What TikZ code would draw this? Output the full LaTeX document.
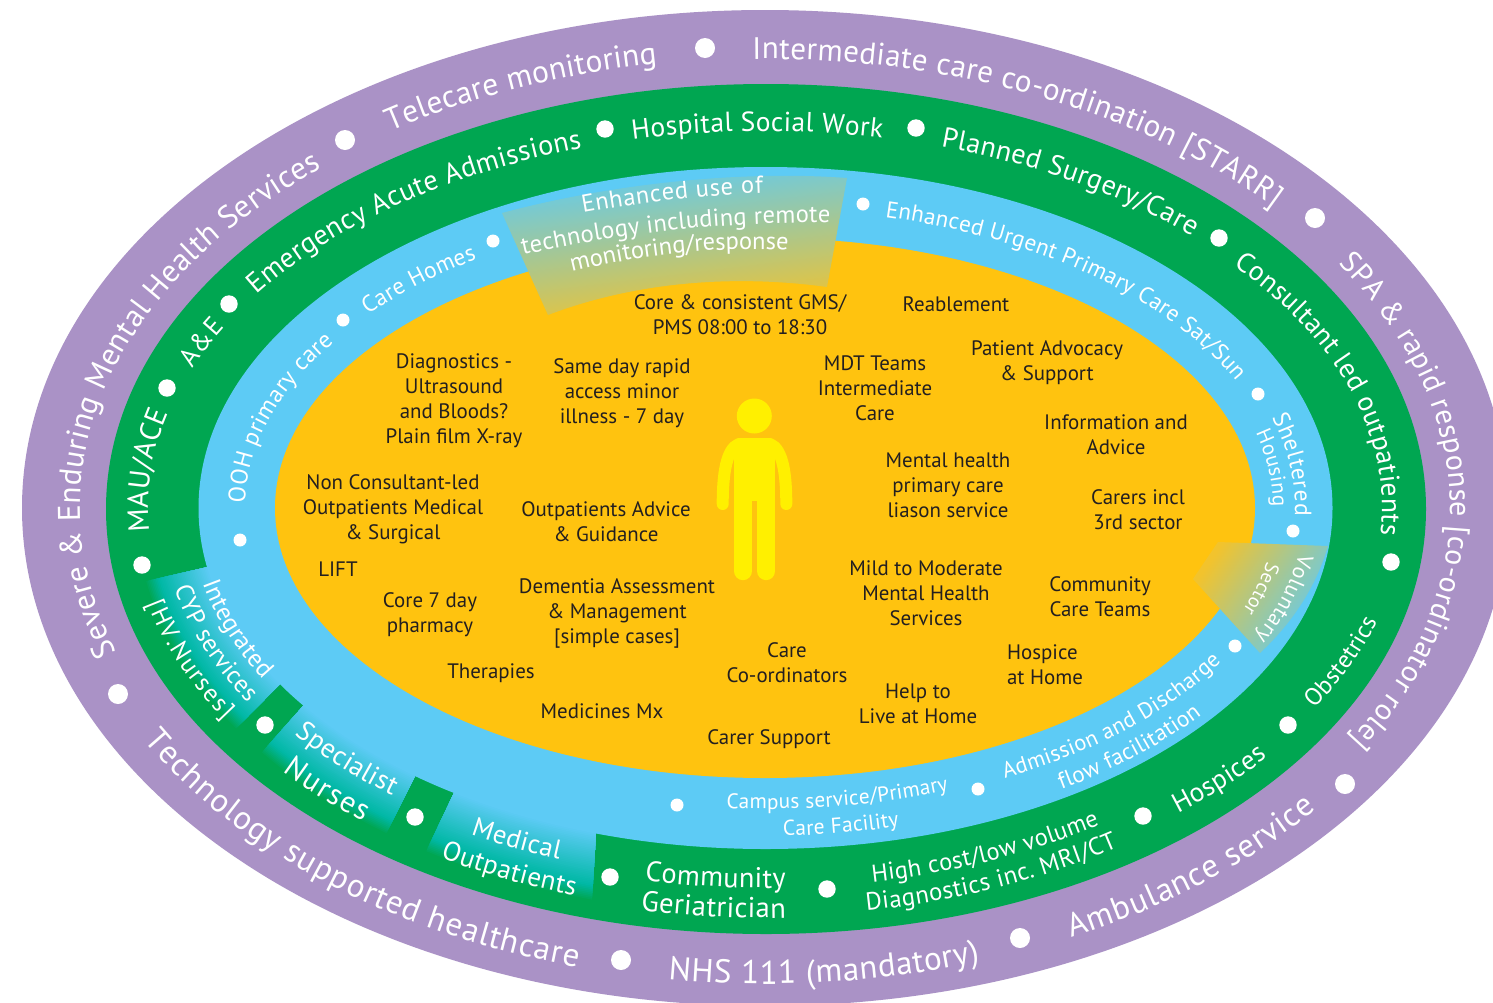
\documentclass[tikz,border=0pt]{standalone}
\usepackage{fontspec}
\setmainfont{PT Sans}
\usetikzlibrary{decorations.text}
\definecolor{purp}{RGB}{170,146,198}
\definecolor{grn}{RGB}{0,166,81}
\definecolor{blu}{RGB}{93,203,245}
\definecolor{yel}{RGB}{255,195,15}
\definecolor{teal0}{RGB}{0,184,165}
\definecolor{pers}{RGB}{255,240,0}
\definecolor{ink}{RGB}{35,31,32}
\definecolor{wmid}{RGB}{172,198,178}
\definecolor{wend}{RGB}{242,195,45}
\tikzset{
  lab/.style={text=ink,align=center,inner sep=0pt,yshift=-1pt,font=\fontsize{20.9}{25}\selectfont},
  wdot/.style={fill=white},
}
\newlength\tw
\newcommand\curfs{10}
\newcommand\fsel{\fontsize{\curfs}{\curfs}\selectfont\color{white}}
% arc length of an ellipse piece: rx ry a b -> \arclen
\newcommand\arcL[4]{%
  \gdef\arclen{0}%
  \foreach \k in {0.5,1.5,...,7.5}{%
    \pgfmathsetmacro\th{#3+(#4-(#3))*\k/8}%
    \pgfmathparse{\arclen+sqrt((#1/100*sin(\th))^2+(#2/100*cos(\th))^2)*100*(abs(#4-(#3))*0.0174533/8)}%
    \xdef\arclen{\pgfmathresult}}%
}
% largest size <= #1 whose natural width fits the arc
\newcommand\fitfs[2]{%
  \settowidth\tw{\pgfinterruptpicture\fontsize{#1}{#1}\selectfont #2\endpgfinterruptpicture}%
  \pgfmathsetmacro\curfs{min(#1,#1*(\arclen/\tw)*0.97)}}
% rx ry x1 y1 x2 y2 size text
\newcommand\cwtext[8]{%
  \pgfmathsetmacro\aS{atan2((508-#4)/#2,(#3-765)/#1)}%
  \pgfmathsetmacro\aT{atan2((508-#6)/#2,(#5-765)/#1)}%
  \pgfmathsetmacro\aE{\aT>\aS ? \aT-360 : \aT}%
  \pgfmathsetmacro\pX{765+#1*cos(\aS)}%
  \pgfmathsetmacro\pY{-508+#2*sin(\aS)}%
  \arcL{#1}{#2}{\aS}{\aE}\fitfs{#7}{#8}%
  \path[decorate,decoration={text along path,text align={fit to path},text={|\fsel|#8}}]
    (\pX pt,\pY pt) arc[start angle=\aS,end angle=\aE,x radius=#1pt,y radius=#2pt];}
\newcommand\ccwtext[8]{%
  \pgfmathsetmacro\aS{atan2((508-#4)/#2,(#3-765)/#1)}%
  \pgfmathsetmacro\aT{atan2((508-#6)/#2,(#5-765)/#1)}%
  \pgfmathsetmacro\aE{\aT<\aS ? \aT+360 : \aT}%
  \pgfmathsetmacro\pX{765+#1*cos(\aS)}%
  \pgfmathsetmacro\pY{-508+#2*sin(\aS)}%
  \arcL{#1}{#2}{\aS}{\aE}\fitfs{#7}{#8}%
  \path[decorate,decoration={text along path,text align={fit to path},text={|\fsel|#8}}]
    (\pX pt,\pY pt) arc[start angle=\aS,end angle=\aE,x radius=#1pt,y radius=#2pt];}
\newcommand\curvetext[3]{%
  \renewcommand\curfs{#2}%
  \path[decorate,decoration={text along path,text align={fit to path},text={|\fsel|#3}}] #1;}
\begin{document}
\begin{tikzpicture}[x=1pt,y=-1pt]
\useasboundingbox (0,0) rectangle (1493,1002);
\clip (0,0) rectangle (1493,1002);
\fill[white] (0,0) rectangle (1493,1002);
% rings
\fill[purp] (765,508) ellipse [x radius=743pt,y radius=498pt];
\fill[grn] (766,509) ellipse [x radius=660pt,y radius=425pt];
% gradient panels in the green ring
\begin{scope}
\clip (208,567) -- (120,587) -- (100,700) -- (215,750) -- (280,684) -- cycle
      (304,705) -- (255,760) -- (378,850) -- (415,776) -- cycle
      (454,793) -- (410,885) -- (590,935) -- (596,833) -- cycle;
\foreach \i in {40,39,...,0}{
  \pgfmathsetmacro\tt{\i/40}
  \pgfmathsetmacro\rx{567+64*\tt}
  \pgfmathsetmacro\ry{341+68*\tt}
  \pgfmathsetmacro\pa{\tt>0.78 ? (\tt-0.78)/0.22*100 : 0}
  \pgfmathsetmacro\pb{\tt>0.78 ? 0 : (0.78-\tt)/0.78*100}
  \ifdim\tt pt>0.78pt
    \fill[grn!\pa!teal0] (765.5,508) ellipse [x radius=\rx pt,y radius=\ry pt];
  \else
    \fill[blu!\pb!teal0] (765.5,508) ellipse [x radius=\rx pt,y radius=\ry pt];
  \fi
}
\end{scope}
\fill[blu] (765.5,508) ellipse [x radius=567pt,y radius=341pt];
\fill[yel] (765,508) ellipse [x radius=490pt,y radius=270pt];
% wedges
\shade[top color=blu,middle color=wmid,bottom color=wend,shading angle=7]
  (502,213) .. controls (610,184) and (740,170) .. (847,178) -- (827,287)
  .. controls (740,275) and (640,280) .. (548,315) -- cycle;
\shade[top color=wend,middle color=wmid,bottom color=blu,shading angle=56]
  (1218,542) -- (1328,546) .. controls (1315,590) and (1290,625) .. (1260,653) -- (1193,579) -- cycle;
% dots
\foreach \x/\y in {705/48,1315/218,1345/784,1020/938,621/960,118/694,345/140}
  \fill[wdot] (\x,\y) circle [radius=10pt];
\foreach \x/\y in {605/129,916/128,1219/238,1391/562,1288/725,1143/816,827/889,610/877,415/817,265/725,142/565,167/388,229/304}
  \fill[wdot] (\x,\y) circle [radius=8.7pt];
\foreach \x/\y in {863/204,1258/394,1293/531,1235/646,978/789,677/805,240/540,343/320,493/241}
  \fill[wdot] (\x,\y) circle [radius=6.5pt];
% person
\fill[pers] (754.3,416) circle [radius=17.5pt];
\fill[pers] (734,445) rectangle (775.3,505);
\fill[pers] (739,438) rectangle (770,450);
\draw[pers,line width=18.3pt,line cap=round] (743,480) -- (743,571);
\draw[pers,line width=18.3pt,line cap=round] (766.3,480) -- (766.3,571);
\fill[yel] (752.3,501) rectangle (757,510);
\draw[pers,line width=12pt,line cap=round] (739,444) .. controls (726,449) and (722.7,475) .. (722.7,504);
\draw[pers,line width=12pt,line cap=round] (770,444) .. controls (783,449) and (786.3,475) .. (786.3,504);
% purple ring text
\cwtext{685}{449}{752}{52}{1290}{198}{33}{Intermediate care co-ordination [STARR]}
\cwtext{685}{446}{1343}{262}{1372}{748}{33}{SPA {\&} rapid response [co-ordinator role]}
\cwtext{685}{450}{387}{128}{657}{62}{33}{Telecare monitoring}
\cwtext{685}{446}{103}{655}{318}{165}{33}{Severe {\&} Enduring Mental Health Services}
\ccwtext{712}{476}{145}{740}{578}{965}{33}{Technology supported healthcare}
\ccwtext{712}{476}{667}{985}{983}{968}{33}{NHS 111 (mandatory)}
\ccwtext{712}{476}{1070}{935}{1327}{815}{33}{Ambulance service}
% green ring text
\cwtext{617}{373}{148}{532}{165}{412}{30}{MAU/ACE}
\cwtext{617}{373}{190}{368}{218}{325}{29}{A{\&}E}
\cwtext{617}{377}{250}{292}{578}{140}{29.5}{Emergency Acute Admissions}
\cwtext{617}{377}{631}{135}{884}{132}{30}{Hospital Social Work}
\cwtext{617}{377}{944}{140}{1194}{235}{30}{Planned Surgery/Care}
\cwtext{617}{373}{1240}{262}{1390}{535}{30}{Consultant led outpatients}
\ccwtext{640}{390}{1313}{708}{1380}{622}{27}{Obstetrics}
\ccwtext{645}{398}{1180}{815}{1274}{760}{29.5}{Hospices}
\ccwtext{606}{380}{872}{880}{1100}{825}{26.5}{High cost/low volume}
\ccwtext{636}{408}{867}{912}{1121}{850}{26.5}{Diagnostics inc. MRI/CT}
\ccwtext{610}{380}{644}{882}{786}{890}{30.5}{Community}
\ccwtext{640}{410}{640}{912}{786}{918}{30.5}{Geriatrician}
% gradient panel text
\ccwtext{576}{349}{190}{585}{272}{676}{25}{Integrated}
\ccwtext{605}{375}{166}{590}{255}{700}{25}{CYP services}
\ccwtext{636}{402}{138}{605}{231}{717}{25}{[HV.Nurses]}
\ccwtext{597}{368}{290}{737}{393}{795}{30}{Specialist}
\ccwtext{637}{404}{282}{772}{366}{820}{30}{Nurses}
\ccwtext{604}{374}{473}{832}{560}{858}{30}{Medical}
\ccwtext{639}{406}{440}{858}{576}{893}{30}{Outpatients}
% blue ring text
\cwtext{520}{299}{888}{210}{1248}{378}{24}{Enhanced Urgent Primary Care Sat/Sun}
\cwtext{520}{296}{240}{503}{328}{340}{24}{OOH primary care}
\cwtext{520}{299}{362}{312}{469}{252}{24}{Care Homes}
\ccwtext{530}{301}{726}{810}{945}{785}{24}{Campus service/Primary}
\ccwtext{550}{328}{783}{834}{896}{818}{24}{Care Facility}
\ccwtext{530}{303}{1002}{775}{1215}{660}{24}{Admission and Discharge}
\ccwtext{558}{332}{1057}{785}{1192}{710}{24}{flow facilitation}
\cwtext{530}{310}{1279}{416}{1300}{516}{23.5}{Sheltered}
\cwtext{508}{290}{1262}{432}{1274}{507}{22}{Housing}
\cwtext{540}{307}{1296}{553}{1255}{637}{22}{Voluntary}
\cwtext{511}{289}{1272}{562}{1250}{612}{20}{Sector}
% top wedge text
\curvetext{(583,213) .. controls (643,202) and (703,195) .. (763,193)}{24.5}{Enhanced use of}
\curvetext{(523,255) .. controls (625,232) and (728,221.5) .. (830,223)}{24.5}{technology including remote}
\curvetext{(572,272) .. controls (644,254) and (715,246.6) .. (787,250)}{24.5}{monitoring/response}
% inner labels
\node[lab] (n1) at (740,314) {Core \& consistent GMS/\\PMS 08:00 to 18:30};
\node[lab] (n2) at (956,303) {Reablement};
\node[lab] (n3) at (454,400) {Diagnostics -\\Ultrasound\\and Bloods?\\Plain film X-ray};
\node[lab] (n4) at (622,392) {Same day rapid\\access minor\\illness - 7 day};
\node[lab] (n5) at (875,387) {MDT Teams\\Intermediate\\Care};
\node[lab] (n6) at (1047,362) {Patient Advocacy\\\& Support};
\node[lab] (n7) at (1116,434) {Information and\\Advice};
\node[lab] (n8) at (948,484) {Mental health\\primary care\\liason service};
\node[lab] (n9) at (1138,509) {Carers incl\\3rd sector};
\node[lab] (n10) at (393,508) {Non Consultant-led\\Outpatients Medical\\\& Surgical};
\node[lab] (n11) at (606,521) {Outpatients Advice\\\& Guidance};
\node[lab] (n12) at (338,568) {LIFT};
\node[lab] (n13) at (430,614) {Core 7 day\\pharmacy};
\node[lab] (n14) at (617,612) {Dementia Assessment\\\& Management\\{[}simple cases]};
\node[lab] (n15) at (926,592) {Mild to Moderate\\Mental Health\\Services};
\node[lab] (n16) at (1100,596) {Community\\Care Teams};
\node[lab,align=left] (n17) at (1045,664) {Hospice\\at Home};
\node[lab] (n18) at (787,662) {Care\\Co-ordinators};
\node[lab] (n19) at (918,703) {Help to\\Live at Home};
\node[lab] (n20) at (491,672) {Therapies};
\node[lab] (n21) at (602,710) {Medicines Mx};
\node[lab] (n22) at (769,738) {Carer Support};
\end{tikzpicture}
\end{document}
